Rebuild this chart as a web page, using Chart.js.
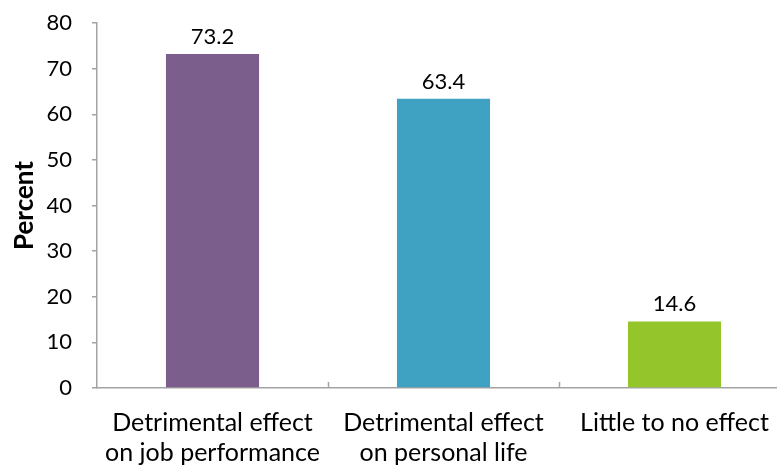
<!DOCTYPE html>
<html>
<head>
<meta charset="utf-8">
<script src="https://cdn.jsdelivr.net/npm/chart.js@4/dist/chart.umd.min.js"></script>
<style>
  html, body { margin: 0; padding: 0; background: #fff; overflow: hidden; }
  #wrap { position: relative; width: 795px; height: 466px; }
</style>
</head>
<body>
<div id="wrap"><canvas id="c"></canvas></div>
<script>
// Effects of the condition, percent of respondents
const categories = [
  ['Detrimental effect', 'on job performance'],
  ['Detrimental effect', 'on personal life'],
  ['Little to no effect']
];
const percentValues = [73.2, 63.4, 14.6];
const barColors = ['#7B5E8C', '#40A2C3', '#94C52A'];
const yTicks = { min: 0, max: 80, step: 10 };
const yTitle = 'Percent';

const FONT = 'Lato, "Liberation Sans", sans-serif';
const AXIS_GRAY = '#A3A3A3';

// Value labels above each bar, taken from the bar elements themselves
const valueLabels = {
  id: 'valueLabels',
  afterDatasetsDraw(chart) {
    const ctx = chart.ctx;
    const meta = chart.getDatasetMeta(0);
    const data = chart.data.datasets[0].data;
    ctx.save();
    ctx.font = '22px ' + FONT;
    ctx.fillStyle = '#000';
    ctx.textAlign = 'center';
    ctx.textBaseline = 'alphabetic';
    meta.data.forEach((bar, i) => {
      ctx.fillText(data[i].toFixed(1), bar.x, bar.y - 10);
    });
    ctx.restore();
  }
};

// Short upward tick marks on the category axis, between categories
const categoryTicks = {
  id: 'categoryTicks',
  afterDraw(chart) {
    const x = chart.scales.x;
    const ctx = chart.ctx;
    const n = chart.data.labels.length;
    ctx.save();
    ctx.strokeStyle = AXIS_GRAY;
    ctx.lineWidth = 1.5;
    for (let i = 0; i < n - 1; i++) {
      const px = Math.round((x.getPixelForValue(i) + x.getPixelForValue(i + 1)) / 2) + 0.5;
      ctx.beginPath();
      ctx.moveTo(px, x.top);
      ctx.lineTo(px, x.top - 6);
      ctx.stroke();
    }
    ctx.restore();
  }
};

new Chart(document.getElementById('c'), {
  type: 'bar',
  data: {
    labels: categories,
    datasets: [{
      data: percentValues,
      backgroundColor: barColors,
      borderWidth: 0,
      categoryPercentage: 1.0,
      barPercentage: 0.403
    }]
  },
  options: {
    responsive: true,
    maintainAspectRatio: false,
    animation: false,
    devicePixelRatio: 1,
    layout: { autoPadding: false, padding: { left: 9, right: 5, top: 23, bottom: 0 } },
    plugins: {
      legend: { display: false },
      tooltip: { enabled: false }
    },
    scales: {
      x: {
        grid: { display: false, drawOnChartArea: false },
        border: { display: true, color: AXIS_GRAY, width: 1.5 },
        ticks: {
          color: '#000',
          font: { family: FONT, size: 25, lineHeight: '30px' },
          padding: 12,
          maxRotation: 0,
          autoSkip: false
        },
        afterFit(scale) { scale.height = 78; }
      },
      y: {
        min: yTicks.min,
        max: yTicks.max,
        grid: {
          drawOnChartArea: false,
          drawTicks: true,
          tickLength: 5,
          color: AXIS_GRAY,
          lineWidth: 1.5
        },
        border: { display: true, color: AXIS_GRAY, width: 1.5 },
        ticks: {
          stepSize: yTicks.step,
          color: '#000',
          font: { family: FONT, size: 22 },
          padding: 20
        },
        title: {
          display: true,
          text: yTitle,
          color: '#000',
          font: { family: FONT, size: 26, weight: 'bold' },
          padding: 0
        },
        afterFit(scale) {
          scale.width = 88;
          scale.paddingTop = 0;
          scale.paddingBottom = 0;
        }
      }
    }
  },
  plugins: [valueLabels, categoryTicks]
});
</script>
</body>
</html>
